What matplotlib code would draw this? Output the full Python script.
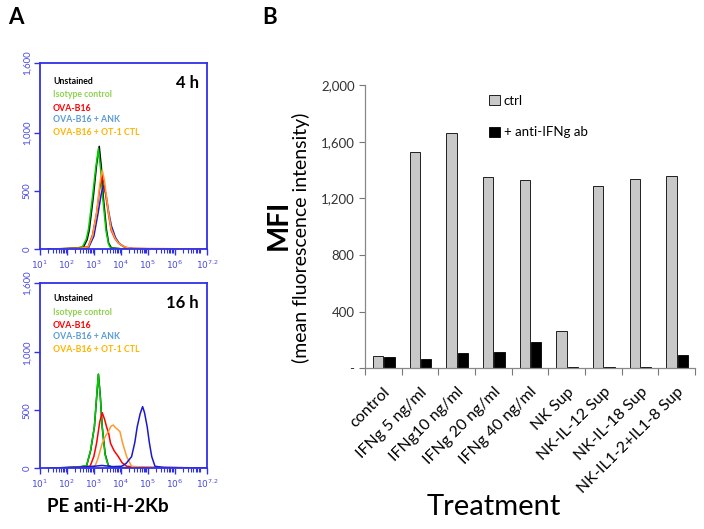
import numpy as np
import matplotlib
matplotlib.use("Agg")
import matplotlib.pyplot as plt
from matplotlib.ticker import FixedLocator, LogLocator, NullFormatter
from matplotlib.transforms import ScaledTranslation

plt.rcParams['font.family'] = ['Lato', 'DejaVu Sans']

# ---------------- Panel A data (log10 fluorescence, counts) ----------------
series_names = ["Unstained", "Isotype control", "OVA-B16", "OVA-B16 + ANK", "OVA-B16 + OT-1 CTL"]

# 4 h
h4_unstained_x = [1.3, 2.0, 2.4, 2.61, 2.75, 2.83, 2.98, 3.10, 3.20, 3.28, 3.35, 3.47, 3.55, 3.65, 4.0, 5.0, 7.2]
h4_unstained_y = [0, 3, 8, 15, 80, 163, 449, 720, 883, 700, 449, 163, 50, 10, 2, 0, 0]
h4_isotype_x = [1.3, 2.0, 2.4, 2.58, 2.72, 2.80, 2.95, 3.07, 3.17, 3.25, 3.33, 3.45, 3.54, 3.62, 4.0, 5.0, 7.2]
h4_isotype_y = [0, 4, 10, 20, 85, 170, 450, 700, 863, 690, 440, 160, 45, 8, 2, 0, 0]
h4_ova_x = [1.5, 2.5, 2.79, 2.95, 3.10, 3.22, 3.30, 3.38, 3.54, 3.64, 3.78, 3.91, 4.10, 4.34, 5.0, 6.0, 7.2]
h4_ova_y = [0, 8, 20, 120, 306, 520, 630, 560, 306, 163, 90, 51, 20, 5, 3, 2, 0]
h4_ank_x = [1.5, 2.5, 2.8, 3.0, 3.15, 3.28, 3.36, 3.45, 3.55, 3.65, 3.80, 3.95, 4.2, 4.5, 5.5, 7.2]
h4_ank_y = [0, 5, 10, 110, 300, 480, 549, 470, 320, 200, 100, 45, 10, 3, 1, 0]
h4_ot1_x = [1.5, 2.5, 2.79, 2.95, 3.10, 3.22, 3.31, 3.39, 3.54, 3.64, 3.78, 3.91, 4.10, 4.34, 5.0, 6.0, 7.2]
h4_ot1_y = [0, 6, 18, 110, 306, 560, 680, 590, 320, 175, 95, 51, 22, 6, 3, 2, 0]

# 16 h
h16_unstained_x = [1.3, 2.0, 2.5, 2.73, 2.88, 3.02, 3.10, 3.17, 3.24, 3.31, 3.42, 3.54, 3.7, 5.0, 7.2]
h16_unstained_y = [0, 3, 10, 20, 150, 357, 600, 810, 620, 357, 120, 20, 5, 0, 0]
h16_isotype_x = [1.3, 2.0, 2.5, 2.73, 2.88, 3.02, 3.10, 3.165, 3.24, 3.31, 3.42, 3.54, 3.7, 5.0, 7.2]
h16_isotype_y = [0, 4, 12, 20, 155, 357, 610, 813, 610, 357, 110, 15, 4, 0, 0]
h16_ova_x = [1.5, 2.5, 2.86, 3.00, 3.10, 3.22, 3.31, 3.40, 3.47, 3.55, 3.62, 3.75, 3.91, 4.05, 4.22, 4.6, 5.5, 7.2]
h16_ova_y = [0, 5, 15, 100, 213, 400, 479, 420, 357, 300, 213, 150, 98, 45, 15, 8, 4, 0]
h16_ank_x = [1.5, 2.5, 3.0, 3.3, 3.7, 4.03, 4.20, 4.40, 4.52, 4.61, 4.72, 4.81, 4.88, 4.98, 5.06, 5.15, 5.27, 5.6, 7.2]
h16_ank_y = [0, 8, 15, 22, 12, 15, 40, 98, 220, 357, 470, 531, 480, 357, 220, 98, 15, 5, 0]
h16_ot1_x = [1.5, 2.5, 3.04, 3.15, 3.31, 3.44, 3.54, 3.63, 3.72, 3.80, 3.90, 3.97, 4.07, 4.22, 4.40, 4.8, 5.6, 7.2]
h16_ot1_y = [0, 5, 15, 80, 213, 280, 314, 360, 372, 350, 330, 314, 213, 98, 15, 8, 4, 0]

hist_ticks = [1, 2, 3, 4, 5, 6, 7.2]
hist_tick_labels = ["$10^{1}$", "$10^{2}$", "$10^{3}$", "$10^{4}$", "$10^{5}$", "$10^{6}$", "$10^{7.2}$"]
count_ticks = [0, 500, 1000, 1600]
count_tick_labels = ["0", "500", "1,000", "1,600"]

# ---------------- Panel B data ----------------
treatments = ["control", "IFNg 5 ng/ml", "IFNg10 ng/ml", "IFNg 20 ng/ml", "IFNg 40 ng/ml",
              "NK Sup", "NK-IL-12 Sup", "NK-IL-18 Sup", "NK-IL1-2+IL1-8 Sup"]
ctrl_vals = [87, 1525, 1659, 1348, 1332, 261, 1285, 1336, 1360]
anti_vals = [80, 68, 106, 118, 188, 8, 6, 8, 94]
mfi_ticks = [0, 400, 800, 1200, 1600, 2000]
mfi_tick_labels = ["-", "400", "800", "1,200", "1,600", "2,000"]

# ---------------- Figure ----------------
fig = plt.figure(figsize=(7.04, 5.29), dpi=100)

AX_BLUE = "#3030e8"
TXT_BLUE = "#4a4ae0"
curve_colors = ["#000000", "#00cc00", "#ff0000", "#1a1acc", "#ff9a2e"]
legend_colors = ["#000000", "#8fd14f", "#ff0000", "#5b9bd5", "#ffb400"]


def flow_panel(ax, curves, order, label, legend_y):
    for idx in order:
        xs, ys = curves[idx]
        ax.plot(10 ** np.asarray(xs), ys, color=curve_colors[idx], lw=1.1)
    ax.set_xscale("log")
    ax.set_xlim(10, 10 ** 7.2)
    ax.set_ylim(0, 1600)
    ax.xaxis.set_major_locator(FixedLocator([10 ** t for t in hist_ticks]))
    ax.set_xticklabels(hist_tick_labels)
    ax.xaxis.set_minor_locator(LogLocator(base=10, subs=np.arange(2, 10), numticks=20))
    ax.xaxis.set_minor_formatter(NullFormatter())
    ax.set_yticks(count_ticks)
    ax.set_yticklabels(count_tick_labels, rotation=90, va="center")
    for s in ax.spines.values():
        s.set_color(AX_BLUE)
        s.set_linewidth(1.3)
    ax.tick_params(axis="both", which="major", direction="out", color=AX_BLUE,
                   labelcolor=TXT_BLUE, labelsize=6.5, length=4, width=1.0, pad=3)
    ax.tick_params(axis="x", which="minor", direction="out", color=AX_BLUE, length=3, width=0.8)
    ax.tick_params(axis="y", which="major", pad=2, labelsize=7)
    for i, name in enumerate(series_names):
        ax.text(0.078, legend_y[i], name, transform=ax.transAxes, color=legend_colors[i],
                fontsize=6.3, fontweight="bold", va="center", ha="left")
    ax.text(0.95, 0.89, label, transform=ax.transAxes, fontsize=12, fontweight="bold",
            ha="right", va="center")


axA1 = fig.add_axes([0.0568, 0.5293, 0.2372, 0.3516])
curves4 = [(h4_unstained_x, h4_unstained_y), (h4_isotype_x, h4_isotype_y),
           (h4_ova_x, h4_ova_y), (h4_ank_x, h4_ank_y), (h4_ot1_x, h4_ot1_y)]
flow_panel(axA1, curves4, [0, 1, 3, 2, 4], "4 h", [0.898, 0.828, 0.758, 0.694, 0.624])

axA2 = fig.add_axes([0.0568, 0.1153, 0.2372, 0.3497])
curves16 = [(h16_unstained_x, h16_unstained_y), (h16_isotype_x, h16_isotype_y),
            (h16_ova_x, h16_ova_y), (h16_ank_x, h16_ank_y), (h16_ot1_x, h16_ot1_y)]
flow_panel(axA2, curves16, [0, 1, 2, 4, 3], "16 h", [0.914, 0.843, 0.773, 0.709, 0.641])

fig.text(0.153, 0.0416, "PE anti-H-2Kb", fontsize=13.5, fontweight="bold", ha="center", va="center")
fig.text(0.0227, 0.966, "A", fontsize=16, fontweight="bold", ha="center", va="center")
fig.text(0.3835, 0.966, "B", fontsize=16, fontweight="bold", ha="center", va="center")

# ---------------- Panel B ----------------
axB = fig.add_axes([0.5185, 0.3038, 0.4688, 0.5355])
x = np.arange(len(treatments))
bw = 0.28
axB.bar(x - 0.145, ctrl_vals, width=bw, color="#c8c8c8", edgecolor="#000000", lw=0.6, label="ctrl")
axB.bar(x + 0.17, anti_vals, width=bw, color="#000000", edgecolor="#000000", lw=0.6, label="+ anti-IFNg ab")
axB.set_xlim(-0.5, len(treatments) - 0.5)
axB.set_ylim(0, 2000)
axB.set_yticks(mfi_ticks)
axB.set_yticklabels(mfi_tick_labels)
axB.set_xticks(x)
axB.set_xticklabels(treatments, rotation=45, ha="right", rotation_mode="anchor", fontsize=11.5)
shift = ScaledTranslation(2 / 100, 0, fig.dpi_scale_trans)
for lbl in axB.get_xticklabels():
    lbl.set_transform(lbl.get_transform() + shift)
axB.xaxis.set_minor_locator(FixedLocator(np.arange(-0.5, len(treatments), 1.0)))
axB.tick_params(axis="x", which="major", length=0, pad=12)
axB.tick_params(axis="x", which="minor", length=5, color="#777777", width=0.8)
axB.tick_params(axis="y", which="major", length=4, color="#777777", labelsize=9.5, labelcolor="#333333")
for side in ["top", "right"]:
    axB.spines[side].set_visible(False)
for side in ["left", "bottom"]:
    axB.spines[side].set_color("#888888")
    axB.spines[side].set_linewidth(0.9)

axB.legend(loc="upper left", bbox_to_anchor=(0.695, 0.821), bbox_transform=fig.transFigure,
           frameon=False, fontsize=9.5, handlelength=0.8, handleheight=0.8,
           handletextpad=0.3, labelspacing=1.5, borderpad=0, borderaxespad=0)

fig.text(0.396, 0.575, "MFI", fontsize=20, fontweight="bold", rotation=90, ha="center", va="center")
fig.text(0.427, 0.55, "(mean fluorescence intensity)", fontsize=14, rotation=90, ha="center", va="center")
fig.text(0.702, 0.0416, "Treatment", fontsize=21, ha="center", va="center")

fig.savefig("out.png", dpi=100)
